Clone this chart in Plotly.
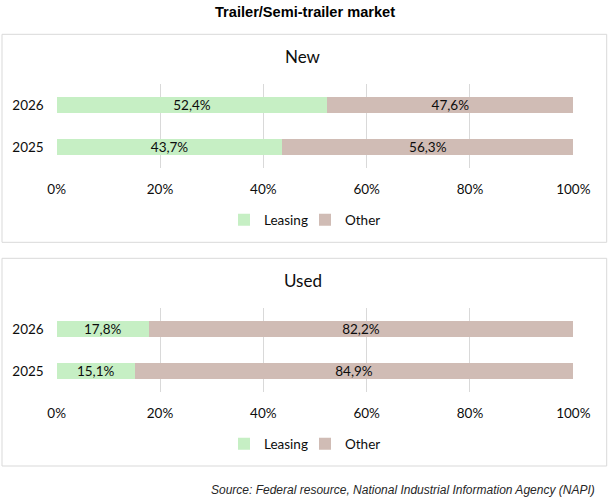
import plotly.graph_objects as go

# Data
years = ["2025", "2026"]
new_leasing = [43.7, 52.4]
new_other = [56.3, 47.6]
used_leasing = [15.1, 17.8]
used_other = [84.9, 82.2]
x_ticks = [0, 20, 40, 60, 80, 100]

GREEN = "#c6efc4"
BROWN = "#d0bcb5"
INK = "#0d0d0d"
FONT = "Lato"
W, H = 614, 503


def py(px):
    # pixel row -> paper y
    return 1 - px / H


def px_x(px):
    return px / W


fig = go.Figure()

panels = [
    ("x", "y", "legend", new_leasing, new_other),
    ("x2", "y2", "legend2", used_leasing, used_other),
]
for xa, ya, leg, leasing, other in panels:
    for name, vals, color in [("Leasing", leasing, GREEN), ("Other", other, BROWN)]:
        fig.add_trace(go.Bar(
            y=years, x=vals, orientation="h", name=name,
            marker=dict(color=color, line=dict(width=0)),
            texttemplate="%{x:.1f}%", textposition="inside", insidetextanchor="middle",
            textangle=0, constraintext="none",
            textfont=dict(color=INK, size=13.5, family=FONT),
            xaxis=xa, yaxis=ya, legend=leg, hoverinfo="skip",
        ))

xdom = [px_x(56.7), px_x(573.3)]
xaxis_style = dict(
    range=[0, 100], tickvals=x_ticks, ticktext=[f"{v}%" for v in x_ticks],
    showgrid=True, gridcolor="#d9d9d9", gridwidth=1, zeroline=False,
    showline=False, ticks="", ticklabelstandoff=12, automargin=False,
    tickfont=dict(family=FONT, size=13.5, color=INK),
    domain=xdom, fixedrange=True,
)
yaxis_style = dict(
    showgrid=False, zeroline=False, showline=False, ticks="", automargin=False,
    ticklabelstandoff=12, tickfont=dict(family=FONT, size=13.5, color=INK),
    fixedrange=True,
)

legend_style = dict(
    orientation="h", xanchor="center", x=px_x(305), yanchor="middle",
    font=dict(family=FONT, size=13.5, color=INK),
    itemwidth=30, entrywidth=36, entrywidthmode="pixels", traceorder="normal",
    bgcolor="rgba(0,0,0,0)",
)

fig.update_layout(
    width=W, height=H,
    margin=dict(l=0, r=0, t=0, b=0),
    paper_bgcolor="white", plot_bgcolor="white",
    barmode="stack", bargap=0.6,
    separators=", ",
    showlegend=True,
    xaxis=dict(**xaxis_style, anchor="y"),
    yaxis=dict(**yaxis_style, domain=[py(167.7), py(84.3)], anchor="x"),
    xaxis2=dict(**xaxis_style, anchor="y2"),
    yaxis2=dict(**yaxis_style, domain=[py(391.7), py(308.3)], anchor="x2"),
    legend=dict(**legend_style, y=py(220)),
    legend2=dict(**legend_style, y=py(444)),
)

# panel borders
for top, bottom in [(34.3, 242.3), (258.3, 466)]:
    fig.add_shape(type="rect", xref="paper", yref="paper",
                  x0=px_x(2), x1=px_x(606.7), y0=py(bottom), y1=py(top),
                  line=dict(color="#d9d9d9", width=1), fillcolor="rgba(0,0,0,0)",
                  layer="below")

# titles
fig.add_annotation(text="<b>Trailer/Semi-trailer market</b>", xref="paper", yref="paper",
                   x=px_x(304.5), y=py(12), xanchor="center", yanchor="middle",
                   showarrow=False,
                   font=dict(family="Liberation Sans", size=14.6, color="black"))
for label, row in [("New", 56.7), ("Used", 280)]:
    fig.add_annotation(text=label, xref="paper", yref="paper", x=px_x(303), y=py(row),
                       xanchor="center", yanchor="middle", showarrow=False,
                       font=dict(family=FONT, size=17, color=INK))
fig.add_annotation(text="<i>Source: Federal resource, National Industrial Information Agency (NAPI)</i>",
                   xref="paper", yref="paper", x=px_x(597), y=py(489.5),
                   xanchor="right", yanchor="middle", showarrow=False,
                   font=dict(family="Liberation Sans", size=12, color="#262626"))

fig.write_html("out.html", config={"responsive": False, "displayModeBar": False},
               post_script="document.body.style.margin='0';")
